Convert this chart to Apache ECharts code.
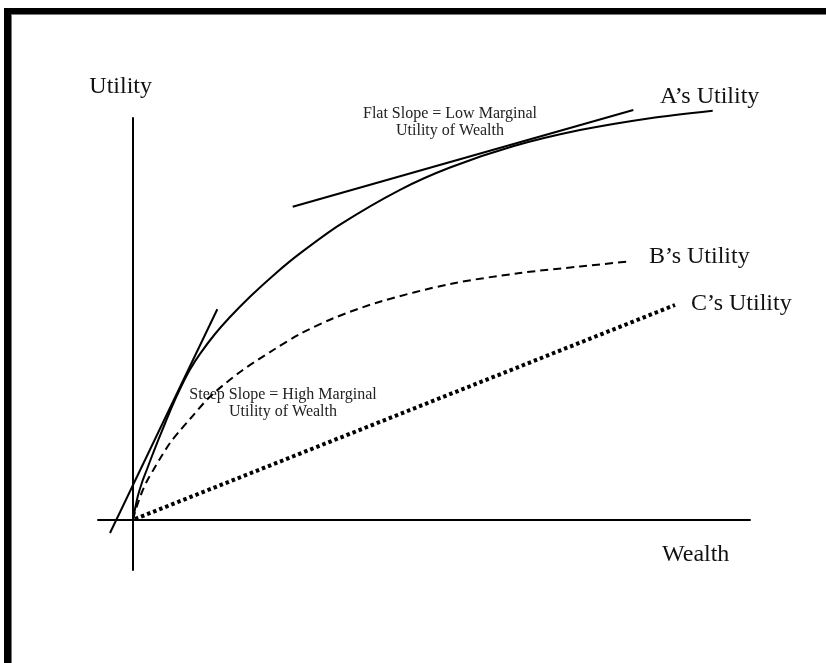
<!DOCTYPE html>
<html>
<head>
<meta charset="utf-8">
<title>Utility of Wealth</title>
<script src="https://cdn.jsdelivr.net/npm/echarts@6/dist/echarts.min.js"></script>
<style>
    html, body { margin: 0; padding: 0; background: #fff; }
    #chart { width: 826px; height: 663px; }
</style>
</head>
<body>
<div id="chart"></div>
<script>
// wealth / utility points (origin = 0,0)
var aUtility = [[0, 0], [2, 11], [5, 24.5], [9, 37.5], [13.7, 50], [19, 64], [25, 79.3], [32, 96.5],
    [39, 113.5], [47, 131], [57, 150.4], [67, 166.1], [82, 186], [97, 203], [117, 223.3],
    [142, 246.1], [167, 266.6], [207, 295.4], [267, 330.2], [317, 352.5], [380, 373.7],
    [447, 389.9], [517, 401.8], [579.7, 409.3]];
var bUtility = [[0, 0], [2, 8], [5, 17], [9, 28], [14, 39], [20.3, 50], [28, 63], [37, 77],
    [47, 89.5], [57, 101], [77, 123.3], [107, 148], [140.3, 170], [167, 186], [200.3, 201.7],
    [247, 218.3], [317, 236], [387, 247], [447, 253.5], [493.7, 258.3]];
var cUtility = [[2, 1], [542, 215]];
// the two tangent lines
var steepTangent = [[-23, -13], [84.3, 210.7]];
var flatTangent = [[159.7, 313.3], [500.3, 410]];
var labels = ['A\u2019s Utility', 'B\u2019s Utility', 'C\u2019s Utility'];
var axisNames = ['Wealth', 'Utility'];
var notes = ['Flat Slope = Low Marginal\nUtility of Wealth', 'Steep Slope = High Marginal\nUtility of Wealth'];

var serif = "'Liberation Serif', 'Times New Roman', serif";
var myChart = echarts.init(document.getElementById('chart'), null, { renderer: 'canvas' });

var lineSeries = function (data, type, width, smooth) {
    return {
        type: 'line',
        data: data,
        symbol: 'none',
        smooth: smooth,
        clip: false,
        silent: true,
        lineStyle: { color: '#000', width: width, type: type, cap: 'butt' }
    };
};

var bigText = function (text, x, y, align) {
    return {
        type: 'text',
        x: x,
        y: y,
        style: {
            text: text,
            fontFamily: serif,
            fontSize: 24,
            fill: '#111',
            textAlign: align,
            textVerticalAlign: 'middle'
        }
    };
};

var noteText = function (text, x, y) {
    return {
        type: 'text',
        x: x,
        y: y,
        style: {
            text: text,
            fontFamily: serif,
            fontSize: 16,
            lineHeight: 17,
            fill: '#222',
            textAlign: 'center',
            textVerticalAlign: 'top'
        }
    };
};

var option = {
    animation: false,
    backgroundColor: '#fff',
    grid: { left: 98, right: 76, top: 118, bottom: 93 },
    xAxis: {
        type: 'value',
        min: -35,
        max: 617,
        axisLine: { show: true, onZero: true, lineStyle: { color: '#000', width: 2 } },
        axisTick: { show: false },
        axisLabel: { show: false },
        splitLine: { show: false }
    },
    yAxis: {
        type: 'value',
        min: -50,
        max: 402,
        axisLine: { show: true, onZero: true, lineStyle: { color: '#000', width: 2 } },
        axisTick: { show: false },
        axisLabel: { show: false },
        splitLine: { show: false }
    },
    series: [
        lineSeries(aUtility, 'solid', 2, 0.3),
        lineSeries(bUtility, [8, 5], 2, 0.3),
        lineSeries(cUtility, [3.5, 3], 4, false),
        lineSeries(steepTangent, 'solid', 2, false),
        lineSeries(flatTangent, 'solid', 2, false)
    ],
    graphic: [
        // frame: only top and left edges are visible
        { type: 'rect', shape: { x: 4, y: 8, width: 822, height: 6 }, style: { fill: '#000' } },
        { type: 'rect', shape: { x: 4, y: 8, width: 7, height: 655 }, style: { fill: '#000' } },
        { type: 'rect', shape: { x: 11, y: 14, width: 815, height: 1 }, style: { fill: '#777' } },
        { type: 'rect', shape: { x: 11, y: 14, width: 1, height: 649 }, style: { fill: '#777' } },
        bigText(axisNames[1], 152, 87, 'right'),
        bigText(axisNames[0], 662, 555, 'left'),
        bigText(labels[0], 660, 97, 'left'),
        bigText(labels[1], 649, 257, 'left'),
        bigText(labels[2], 691, 304, 'left'),
        noteText(notes[0], 450, 105),
        noteText(notes[1], 283, 386)
    ]
};
myChart.setOption(option);
</script>
</body>
</html>
